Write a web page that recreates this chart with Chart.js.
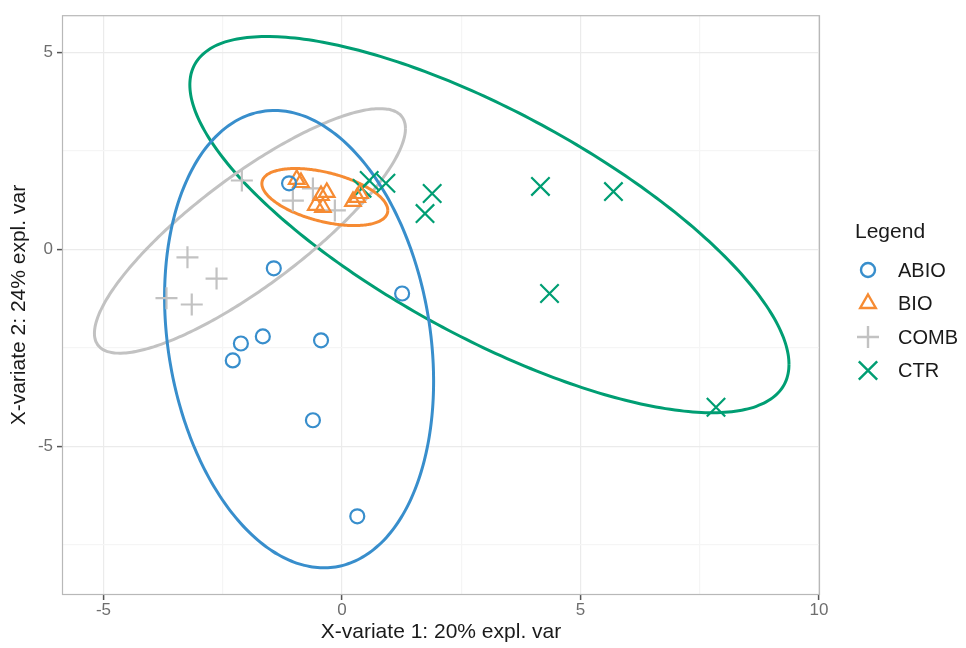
<!DOCTYPE html>
<html>
<head>
<meta charset="utf-8">
<title>X-variate plot</title>
<script src="https://cdn.jsdelivr.net/npm/chart.js@4.4.1/dist/chart.umd.min.js"></script>
<style>
  html, body { margin: 0; padding: 0; background: #fff; }
  #wrap { position: relative; width: 966px; height: 648px; }
</style>
</head>
<body>
<div id="wrap"><canvas id="plot"></canvas></div>
<script>
// groups as they appear in the legend
const groups = ['ABIO', 'BIO', 'COMB', 'CTR'];
const groupColors = ['#388ECC', '#F68B33', '#C2C2C2', '#009E73'];

// sample scores (X-variate 1, X-variate 2)
const abioX = [-1.11, -1.43, 1.26, -1.66, -2.12, -2.29, -0.44, -0.61, 0.32];
const abioY = [1.68, -0.48, -1.12, -2.21, -2.39, -2.82, -2.31, -4.34, -6.78];
const bioX = [-0.95, -0.86, -0.44, -0.32, -0.55, -0.40, 0.23, 0.32, 0.38];
const bioY = [1.78, 1.70, 1.37, 1.45, 1.12, 1.07, 1.22, 1.32, 1.42];
const combX = [-3.24, -2.63, -3.68, -3.15, -2.10, -1.03, -0.61, -0.15];
const combY = [-0.20, -0.74, -1.24, -1.40, 1.75, 1.24, 1.55, 0.99];
const ctrX = [0.57, 0.92, 0.42, 1.89, 1.74, 4.16, 5.69, 4.35, 7.84];
const ctrY = [1.75, 1.68, 1.55, 1.42, 0.91, 1.60, 1.47, -1.12, -4.01];

// confidence ellipses: centre + two conjugate semi-axes (data units), one per group
const ellipseCenter = [[-0.90, -2.28], [-0.36, 1.33], [-1.93, 0.47], [3.09, 0.63]];
const ellipseAxisU = [[2.82, -1.07], [1.32, -0.34], [3.26, 2.60], [6.28, -3.55]];
const ellipseAxisV = [[0, 5.71], [0, 0.64], [0, 1.70], [0, 3.20]];

// axes
const xRange = [-5.87, 10.02];
const yRange = [-8.78, 5.95];
const xTicks = [-5, 0, 5, 10];
const xMinor = [-2.5, 2.5, 7.5];
const yTicks = [-5, 0, 5];
const yMinor = [-7.5, -2.5, 2.5];

const FONT = "'Liberation Sans', Arial, sans-serif";
const pointStyles = ['circle', 'triangle', 'cross', 'crossRot'];
const pointRadii = [7, 9, 11, 13];

function toPoints(xs, ys) {
    return xs.map((x, i) => ({ x: x, y: ys[i] }));
}

function ellipsePath(c, u, v) {
    const pts = [];
    for (let i = 0; i <= 160; i++) {
        const t = i / 160 * 2 * Math.PI;
        pts.push({
            x: c[0] + u[0] * Math.cos(t) + v[0] * Math.sin(t),
            y: c[1] + u[1] * Math.cos(t) + v[1] * Math.sin(t)
        });
    }
    return pts;
}

const groupXs = [abioX, bioX, combX, ctrX];
const groupYs = [abioY, bioY, combY, ctrY];

const datasets = [];
groups.forEach((g, i) => {
    datasets.push({
        label: g,
        data: toPoints(groupXs[i], groupYs[i]),
        pointStyle: pointStyles[i],
        pointRadius: pointRadii[i],
        pointBorderWidth: 2.2,
        borderColor: groupColors[i],
        backgroundColor: 'rgba(0,0,0,0)',
        showLine: false
    });
});
groups.forEach((g, i) => {
    datasets.push({
        label: g + ' ellipse',
        data: ellipsePath(ellipseCenter[i], ellipseAxisU[i], ellipseAxisV[i]),
        showLine: true,
        pointRadius: 0,
        borderWidth: 3,
        borderColor: groupColors[i],
        backgroundColor: 'rgba(0,0,0,0)',
        fill: false,
        tension: 0.2   // non-zero so the line is not drawn with the fast (pixel-collapsing) path
    });
});

// grey frame round the panel
const panelBorder = {
    id: 'panelBorder',
    afterDraw(chart) {
        const a = chart.chartArea, ctx = chart.ctx;
        ctx.save();
        ctx.strokeStyle = '#b8b8b8';
        ctx.lineWidth = 1.2;
        ctx.strokeRect(a.left + 0.5, a.top + 0.5, a.right - a.left - 1, a.bottom - a.top - 1);
        ctx.restore();
    }
};

// ggplot style legend on the right
const sideLegend = {
    id: 'sideLegend',
    afterDraw(chart) {
        const ctx = chart.ctx;
        ctx.save();
        ctx.textBaseline = 'middle';
        ctx.textAlign = 'left';
        ctx.fillStyle = '#1a1a1a';
        ctx.font = '21px ' + FONT;
        ctx.fillText('Legend', 855, 232);
        ctx.font = '20px ' + FONT;
        groups.forEach((g, i) => {
            const y = 270 + i * 33.5;
            ctx.strokeStyle = groupColors[i];
            ctx.fillStyle = 'rgba(0,0,0,0)';
            ctx.lineWidth = 2.4;
            Chart.helpers.drawPoint(ctx, {
                pointStyle: pointStyles[i],
                radius: pointRadii[i],
                borderWidth: 2.4,
                rotation: 0
            }, 868, y);
            ctx.fillStyle = '#1a1a1a';
            ctx.fillText(g, 898, y + 1);
        });
        ctx.restore();
    }
};

function axisOpts(major, minor, range, title, fitFn, tickPad, titlePad) {
    const all = major.concat(minor).sort((a, b) => a - b);
    return {
        type: 'linear',
        min: range[0],
        max: range[1],
        afterBuildTicks: s => { s.ticks = all.map(v => ({ value: v })); },
        afterFit: fitFn,
        ticks: {
            autoSkip: false,
            maxRotation: 0,
            padding: tickPad,
            color: '#6e6e6e',
            font: { family: FONT, size: 17 },
            callback: v => major.includes(v) ? String(v) : ''
        },
        grid: {
            color: c => (c.tick && major.includes(c.tick.value)) ? '#ebebeb' : '#f5f5f5',
            lineWidth: 1.2,
            tickColor: c => (c.tick && major.includes(c.tick.value)) ? '#555555' : 'rgba(0,0,0,0)',
            tickLength: 5,
            tickWidth: 1.5
        },
        border: { display: false },
        title: {
            display: true,
            text: title,
            color: '#1a1a1a',
            font: { family: FONT, size: 21 },
            padding: titlePad
        }
    };
}

new Chart(document.getElementById('plot'), {
    type: 'scatter',
    data: { datasets: datasets },
    options: {
        responsive: true,
        maintainAspectRatio: false,
        animation: false,
        layout: { padding: { top: 10, right: 146, left: 0, bottom: 0 } },
        plugins: {
            legend: { display: false },
            tooltip: { enabled: false }
        },
        scales: {
            x: axisOpts(xTicks, xMinor, xRange, 'X-variate 1: 20% expl. var', s => {
                s.height = 53;
            }, 0, { top: 2, bottom: 3 }),
            y: axisOpts(yTicks, yMinor, yRange, 'X-variate 2: 24% expl. var', s => {
                s.width = 62;
            }, 4, { top: 7, bottom: 2 })
        }
    },
    plugins: [panelBorder, sideLegend]
});
</script>
</body>
</html>
